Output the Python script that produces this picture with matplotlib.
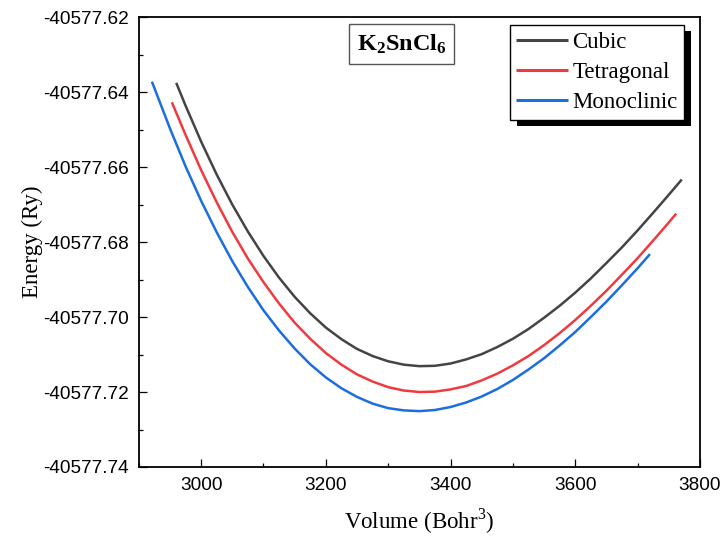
import matplotlib
matplotlib.use("Agg")
import matplotlib.pyplot as plt
from matplotlib.patches import Rectangle
from matplotlib.ticker import MultipleLocator, FormatStrFormatter

# E-V curves (volume in Bohr^3, energy in Ry)
cubic_v = [2960, 2975, 3000, 3025, 3050, 3075, 3100, 3125, 3150, 3175,
           3200, 3225, 3250, 3275, 3300, 3325, 3350, 3375, 3400, 3425,
           3450, 3475, 3500, 3525, 3550, 3575, 3600, 3625, 3650, 3675,
           3700, 3725, 3750, 3771]
cubic_e = [-40577.6375, -40577.6436, -40577.6532, -40577.6620, -40577.6700,
           -40577.6772, -40577.6837, -40577.6895, -40577.6946, -40577.6990,
           -40577.7028, -40577.7059, -40577.7085, -40577.7104, -40577.7118,
           -40577.7127, -40577.7131, -40577.7130, -40577.7124, -40577.7113,
           -40577.7099, -40577.7080, -40577.7058, -40577.7032, -40577.7002,
           -40577.6970, -40577.6935, -40577.6897, -40577.6856, -40577.6814,
           -40577.6769, -40577.6722, -40577.6674, -40577.6633]

tetra_v = [2953, 2975, 3000, 3025, 3050, 3075, 3100, 3125, 3150, 3175,
           3200, 3225, 3250, 3275, 3300, 3325, 3350, 3375, 3400, 3425,
           3450, 3475, 3500, 3525, 3550, 3575, 3600, 3625, 3650, 3675,
           3700, 3725, 3750, 3762]
tetra_e = [-40577.6427, -40577.6514, -40577.6608, -40577.6694, -40577.6773,
           -40577.6844, -40577.6907, -40577.6964, -40577.7015, -40577.7058,
           -40577.7096, -40577.7127, -40577.7153, -40577.7172, -40577.7187,
           -40577.7196, -40577.7200, -40577.7199, -40577.7193, -40577.7184,
           -40577.7169, -40577.7151, -40577.7129, -40577.7104, -40577.7075,
           -40577.7043, -40577.7008, -40577.6970, -40577.6930, -40577.6887,
           -40577.6843, -40577.6796, -40577.6748, -40577.6724]

mono_v = [2921, 2925, 2950, 2975, 3000, 3025, 3050, 3075, 3100, 3125,
          3150, 3175, 3200, 3225, 3250, 3275, 3300, 3325, 3350, 3375,
          3400, 3425, 3450, 3475, 3500, 3525, 3550, 3575, 3600, 3625,
          3650, 3675, 3700, 3720]
mono_e = [-40577.6372, -40577.6389, -40577.6497, -40577.6598, -40577.6690,
          -40577.6774, -40577.6851, -40577.6920, -40577.6982, -40577.7036,
          -40577.7084, -40577.7126, -40577.7161, -40577.7190, -40577.7213,
          -40577.7231, -40577.7243, -40577.7249, -40577.7251, -40577.7248,
          -40577.7240, -40577.7228, -40577.7212, -40577.7192, -40577.7168,
          -40577.7140, -40577.7110, -40577.7076, -40577.7040, -40577.7000,
          -40577.6959, -40577.6915, -40577.6870, -40577.6832]

series = [
    ("Cubic", cubic_v, cubic_e, "#444444"),
    ("Tetragonal", tetra_v, tetra_e, "#ef3b40"),
    ("Monoclinic", mono_v, mono_e, "#1b6de0"),
]

plt.rcParams["mathtext.fontset"] = "custom"
plt.rcParams["mathtext.rm"] = "Liberation Serif"
plt.rcParams["mathtext.bf"] = "Liberation Serif:bold"

fig = plt.figure(figsize=(7.23, 5.38), dpi=100)
ax = fig.add_axes([0.192, 0.132, 0.776, 0.836])

for name, v, e, col in series:
    ax.plot(v, e, color=col, lw=1.8, label=name, solid_capstyle="butt")

ax.set_xlim(2900, 3800)
ax.set_ylim(-40577.74, -40577.62)
ax.xaxis.set_major_locator(MultipleLocator(200))
ax.xaxis.set_minor_locator(MultipleLocator(100))
ax.yaxis.set_major_locator(MultipleLocator(0.02))
ax.yaxis.set_minor_locator(MultipleLocator(0.01))
ax.yaxis.set_major_formatter(FormatStrFormatter("%.2f"))

ax.tick_params(which="both", direction="in", top=False, right=False,
               width=0.9, labelsize=13.7, labelfontfamily="Liberation Sans")
ax.tick_params(which="major", length=6)
ax.tick_params(which="minor", length=3.2)
ax.tick_params(axis="x", pad=7)
ax.tick_params(axis="y", pad=7)
for sp in ax.spines.values():
    sp.set_linewidth(1.3)

ax.set_xlabel("Volume (Bohr$^3$)", family="Liberation Serif", fontsize=16.5, labelpad=9)
ax.set_ylabel("Energy (Ry)", family="Liberation Serif", fontsize=16.5, labelpad=0.5)

ax.text(0.4685, 0.941, r"$\mathbf{K_2SnCl_6}$", transform=ax.transAxes,
        ha="center", va="center", fontsize=17.5,
        bbox=dict(boxstyle="square,pad=0.32", fc="white", ec="#555555", lw=1.0))

leg = ax.legend(loc="upper right", bbox_to_anchor=(0.972, 0.982), borderaxespad=0,
                frameon=True, fancybox=False, framealpha=1, edgecolor="black",
                prop={"family": "Liberation Serif", "size": 16.5},
                handlelength=2.25, handletextpad=0.2, labelspacing=0.4,
                borderpad=0.28)
leg.get_frame().set_linewidth(1.0)
leg.set_zorder(6)
for line in leg.get_lines():
    line.set_linewidth(2.2)

# black drop shadow behind the legend box
fig.canvas.draw()
bb = leg.get_window_extent().transformed(fig.transFigure.inverted())
off_x, off_y = 7 / 723, 6 / 538
shadow = Rectangle((bb.x0 + off_x, bb.y0 - off_y), bb.width, bb.height,
                   transform=fig.transFigure, fc="black", ec="none",
                   zorder=5, clip_on=False)
ax.add_patch(shadow)

fig.savefig("out.png", dpi=100)
